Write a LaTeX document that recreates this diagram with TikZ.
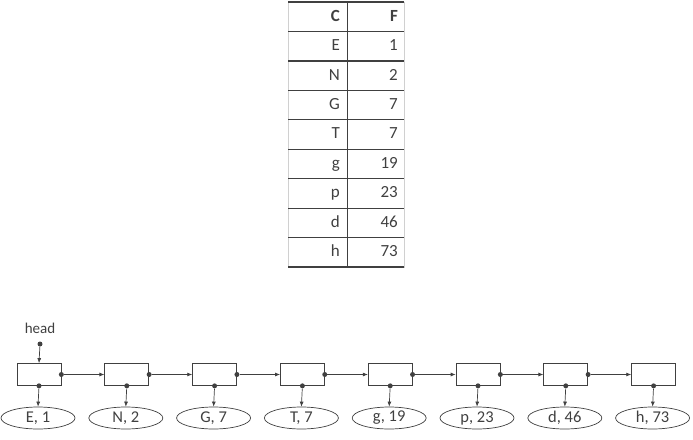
\documentclass[tikz,border=0pt]{standalone}
\usepackage{fontspec}
\setmainfont{Carlito}
\usetikzlibrary{arrows.meta,shapes.geometric}
\definecolor{ln}{HTML}{404040}
\definecolor{lt}{HTML}{D0D0D0}
\tikzset{
  cell/.style={inner sep=0pt, anchor=east, font=\fontsize{17}{17}\selectfont, text=ln},
  listbox/.style={draw=ln, line width=0.7pt, minimum width=44pt, minimum height=22pt, inner sep=0pt},
  valnode/.style={draw=ln, line width=0.7pt, ellipse, minimum width=74pt, minimum height=22pt, inner sep=0pt, font=\fontsize{16.5}{16.5}\selectfont, text=ln},
  conn/.style={draw=ln, line width=0.7pt, -{Latex[length=5pt,width=4pt]}},
  dotc/.style={circle, fill=ln, inner sep=0pt, minimum size=5pt},
}
\begin{document}
\begin{tikzpicture}[x=1pt,y=-1pt]
\useasboundingbox (0,0) rectangle (693,439);
% table
\def\rh{29.45}
\draw[lt, line width=0.8pt] (288,2) -- (288,268);
\draw[lt, line width=0.8pt] (404,2) -- (404,268);
\foreach \i in {0,...,9} {
  \draw[ln, line width=1.3pt] (288,{2+\i*\rh}) -- (404,{2+\i*\rh});
}
\draw[ln, line width=0.9pt] (347,2) -- (347,268);
\node[cell, font=\fontsize{17}{17}\selectfont\bfseries] (hc) at (340,{3+0.5*\rh}) {\strut C};
\node[cell, font=\fontsize{17}{17}\selectfont\bfseries] (hf) at (398,{3+0.5*\rh}) {\strut F};
\foreach \c/\f [count=\k] in {E/1,N/2,G/7,T/7,g/19,p/23,d/46,h/73} {
  \node[cell] (c\k) at (340,{3+(\k+0.5)*\rh}) {\strut\c};
  \node[cell] (f\k) at (398,{3+(\k+0.5)*\rh}) {\strut\f};
}
% linked list
\node[font=\fontsize{15}{15}\selectfont, text=ln] (head) at (40,328) {head};
\node[dotc] (hd) at (40,344) {};
\foreach \v [count=\k from 0] in {{E, 1},{N, 2},{G, 7},{T, 7},{g, 19},{p, 23},{d, 46},{h, 73}} {
  \node[listbox] (b\k) at ({39+87.8*\k},374.5) {};
  \node[valnode] (e\k) at ({38+87.8*\k},418) {\v};
  \node[dotc] (bd\k) at (b\k.south) {};
  \draw[conn] (bd\k) -- (e\k.north);
}
\draw[conn] (hd) -- (b0.north);
\foreach \k [evaluate=\k as \n using int(\k+1)] in {0,...,6} {
  \node[dotc] (rd\k) at (b\k.east) {};
  \draw[conn] (rd\k) -- (b\n.west);
}
\end{tikzpicture}
\end{document}
